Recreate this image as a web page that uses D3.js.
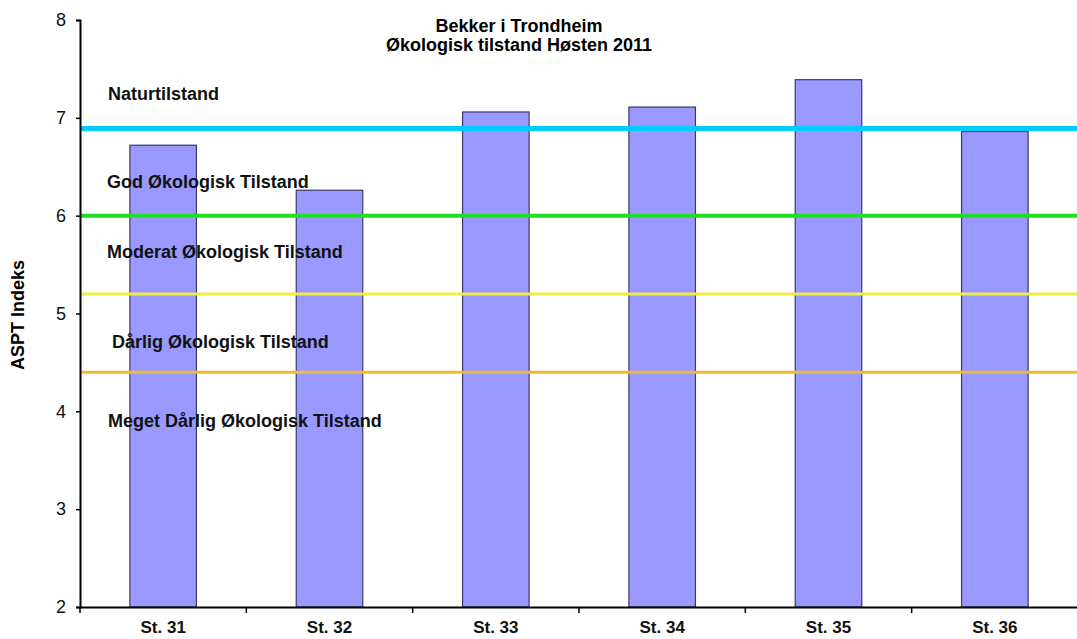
<!doctype html>
<html>
<head>
<meta charset="utf-8">
<script src="https://d3js.org/d3.v7.min.js"></script>
<style>
  body { margin: 0; background: #fff; }
  svg { font-family: "Liberation Sans", Arial, sans-serif; }
</style>
</head>
<body>
<svg width="1077" height="639"></svg>
<script>
// stations and ASPT index values
var stations = ["St. 31", "St. 32", "St. 33", "St. 34", "St. 35", "St. 36"];
var asptValues = [6.72, 6.26, 7.06, 7.11, 7.39, 6.86];

// class boundaries
var boundaryValues = [6.89, 6.0, 5.2, 4.4];
var boundaryColors = ["#00ccff", "#22dd22", "#eeee44", "#eebb33"];
var boundaryWidths = [5, 4, 3, 3];

// zone labels and the index value they sit at
var zoneLabels = ["Naturtilstand", "God Økologisk Tilstand", "Moderat Økologisk Tilstand",
                  "Dårlig Økologisk Tilstand", "Meget Dårlig Økologisk Tilstand"];
var zoneLabelValues = [7.18, 6.28, 5.57, 4.65, 3.84];
var zoneLabelX = [108, 107, 107, 112, 108];

var yTicks = [2, 3, 4, 5, 6, 7, 8];

var svg = d3.select("svg");
var plotLeft = 80, plotRight = 1078, plotTop = 20, plotBottom = 607;

var x = d3.scaleBand().domain(stations).range([plotLeft, plotRight]);
var y = d3.scaleLinear().domain([2, 8]).range([plotBottom, plotTop]);

// title
svg.append("text")
   .attr("x", 519).attr("y", 32)
   .attr("text-anchor", "middle")
   .attr("font-size", "18px").attr("font-weight", "bold")
   .text("Bekker i Trondheim");
svg.append("text")
   .attr("x", 519).attr("y", 51)
   .attr("text-anchor", "middle")
   .attr("font-size", "18px").attr("font-weight", "bold")
   .text("Økologisk tilstand Høsten 2011");

// bars
var barW = x.bandwidth() * 0.4;
svg.selectAll(".bar")
   .data(stations)
   .enter().append("rect")
   .attr("class", "bar")
   .attr("x", function(d) { return x(d) + (x.bandwidth() - barW) / 2; })
   .attr("y", function(d, i) { return y(asptValues[i]); })
   .attr("width", barW)
   .attr("height", function(d, i) { return plotBottom - y(asptValues[i]); })
   .attr("fill", "#9999ff")
   .attr("stroke", "#3a3a66")
   .attr("stroke-width", 1.2);

// boundary lines
svg.selectAll(".bound")
   .data(boundaryValues)
   .enter().append("line")
   .attr("x1", plotLeft).attr("x2", 1077)
   .attr("y1", function(d) { return y(d); })
   .attr("y2", function(d) { return y(d); })
   .attr("stroke", function(d, i) { return boundaryColors[i]; })
   .attr("stroke-width", function(d, i) { return boundaryWidths[i]; });

// zone labels
svg.selectAll(".zone")
   .data(zoneLabels)
   .enter().append("text")
   .attr("x", function(d, i) { return zoneLabelX[i]; })
   .attr("y", function(d, i) { return y(zoneLabelValues[i]); })
   .attr("font-size", "18px").attr("font-weight", "bold")
   .attr("fill", "#111")
   .text(function(d) { return d; });

// y axis
var yAxis = svg.append("g")
   .attr("transform", "translate(" + plotLeft + ",0)")
   .call(d3.axisLeft(y).tickValues(yTicks).tickSize(4).tickPadding(10).tickFormat(d3.format("d")));
yAxis.select(".domain").attr("stroke", "#000").attr("stroke-width", 2);
yAxis.selectAll(".tick line").attr("stroke-width", 1.5);
yAxis.selectAll("text").attr("font-size", "18px").attr("font-family", "Liberation Sans, Arial, sans-serif").attr("fill", "#111");

// x axis
var xAxis = svg.append("g")
   .attr("transform", "translate(0," + plotBottom + ")")
   .call(d3.axisBottom(x).tickSize(0).tickPadding(14));
xAxis.select(".domain").attr("stroke", "#000").attr("stroke-width", 2);
xAxis.selectAll("text").attr("font-size", "17px").attr("font-weight", "bold")
     .attr("font-family", "Liberation Sans, Arial, sans-serif").attr("fill", "#111");
// tick marks between categories
var bounds = stations.map(function(d) { return x(d); }).concat([plotRight]);
xAxis.selectAll(".sep")
   .data(bounds)
   .enter().append("line")
   .attr("x1", function(d) { return d; }).attr("x2", function(d) { return d; })
   .attr("y1", 0).attr("y2", 6)
   .attr("stroke", "#000").attr("stroke-width", 1.5);

// y axis title
svg.append("text")
   .attr("transform", "translate(24,315) rotate(-90)")
   .attr("text-anchor", "middle")
   .attr("font-size", "18px").attr("font-weight", "bold")
   .text("ASPT Indeks");
</script>
</body>
</html>
